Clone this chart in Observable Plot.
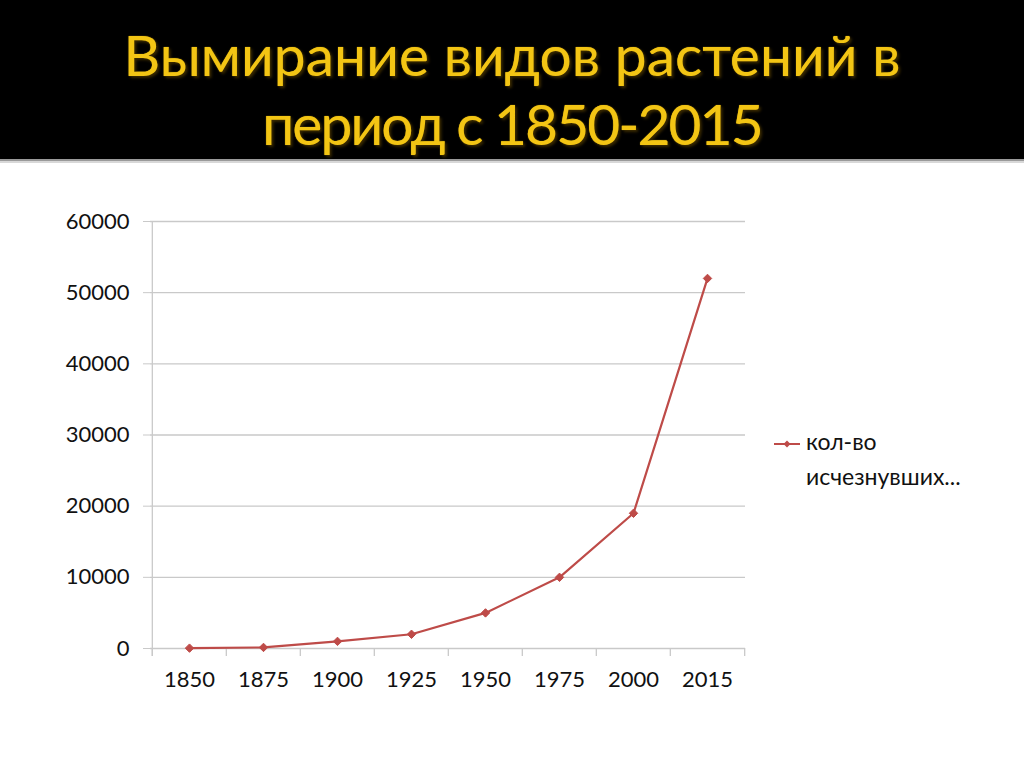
<!DOCTYPE html>
<html>
<head>
<meta charset="utf-8">
<script src="https://cdn.jsdelivr.net/npm/d3@7"></script>
<script src="https://cdn.jsdelivr.net/npm/@observablehq/plot@0.6"></script>
<style>
  html, body { margin: 0; padding: 0; background: #fff; width: 1024px; height: 767px; overflow: hidden; }
  #header {
    position: absolute; left: 0; top: 0; width: 1024px; height: 159px;
    background: #000; color: #F3C514;
    font-family: Lato, "Open Sans", sans-serif; font-size: 57px; line-height: 70px;
    text-align: center; font-weight: 400;
    text-shadow: 2px 2px 3px #3a2a00, 0 0 1px #F3C514;
  }
  #header div.l1 { position: absolute; left: 0; width: 1024px; top: 19px; }
  #header div.l2 { position: absolute; left: 0; width: 1024px; top: 88px; letter-spacing: -2px; }
  #rule1 { position: absolute; left: 0; top: 159px; width: 1024px; height: 2px; background: #9a9a9a; }
  #rule2 { position: absolute; left: 0; top: 161px; width: 1024px; height: 2px; background: #d8d8d8; }
  #chart { position: absolute; left: 0; top: 163px; }
  #legend {
    position: absolute; left: 774px; top: 424px;
    font-family: Lato, "Open Sans", sans-serif; font-size: 23px; color: #111; line-height: 35px;
  }
  #legend svg { vertical-align: middle; margin-right: 6px; }
  #legend .t2 { padding-left: 32px; }
</style>
</head>
<body>
<div id="header"><div class="l1">Вымирание видов растений в</div><div class="l2">период с 1850-2015</div></div>
<div id="rule1"></div><div id="rule2"></div>
<div id="chart"></div>
<div id="legend"></div>
<script>
const years = ["1850", "1875", "1900", "1925", "1950", "1975", "2000", "2015"];
const extinct = [50, 150, 1000, 2000, 5000, 10000, 19000, 52000];
const yTicks = [0, 10000, 20000, 30000, 40000, 50000, 60000];
const seriesName = "кол-во исчезнувших...";
const lineColor = "#BE4B48";
const gridColor = "#c9c9c9";

const data = years.map((y, i) => ({year: y, value: extinct[i]}));

const W = 1024, H = 604;
const mL = 150, mR = 279, mT = 58, mB = 119;
const half = (W - mL - mR) / years.length / 2;
const below = 60000 * 8 / (H - mT - mB);

const chart = Plot.plot({
  width: W, height: H,
  marginLeft: mL, marginRight: mR, marginTop: mT, marginBottom: mB,
  style: {fontFamily: "Lato, 'Open Sans', sans-serif", fontSize: "22px", color: "#111", background: "transparent"},
  x: {type: "point", domain: years, padding: 0.5},
  y: {domain: [0, 60000]},
  marks: [
    Plot.ruleY(yTicks, {stroke: gridColor, strokeWidth: 1.3}),
    Plot.ruleX(years, {x: d => d, dx: -half, y1: -below, y2: 0, stroke: gridColor, strokeWidth: 1.3}),
    Plot.ruleX([years[years.length - 1]], {dx: half, y1: -below, y2: 0, stroke: gridColor, strokeWidth: 1.3}),
    Plot.ruleX([years[0]], {dx: -half, y1: -below, y2: 60000, stroke: gridColor, strokeWidth: 1.3}),
    Plot.axisY({ticks: yTicks, tickSize: 7, tickPadding: 14, stroke: gridColor, tickFormat: d => String(d), fontSize: 22, label: null}),
    Plot.axisX({tickSize: 0, tickPadding: 23, fontSize: 22, label: null}),
    Plot.line(data, {x: "year", y: "value", stroke: lineColor, strokeWidth: 2.2}),
    Plot.dot(data, {x: "year", y: "value", symbol: "diamond2", r: 3.8, fill: lineColor, stroke: lineColor, strokeWidth: 1})
  ]
});
document.getElementById("chart").appendChild(chart);

const words = seriesName.split(" ");
document.getElementById("legend").innerHTML =
  `<div><svg width="26" height="10"><line x1="0" y1="5" x2="26" y2="5" stroke="${lineColor}" stroke-width="2"/><path d="M13,1.5 L16.5,5 L13,8.5 L9.5,5Z" fill="${lineColor}"/></svg>${words[0]}</div><div class="t2">${words[1]}</div>`;
</script>
</body>
</html>
